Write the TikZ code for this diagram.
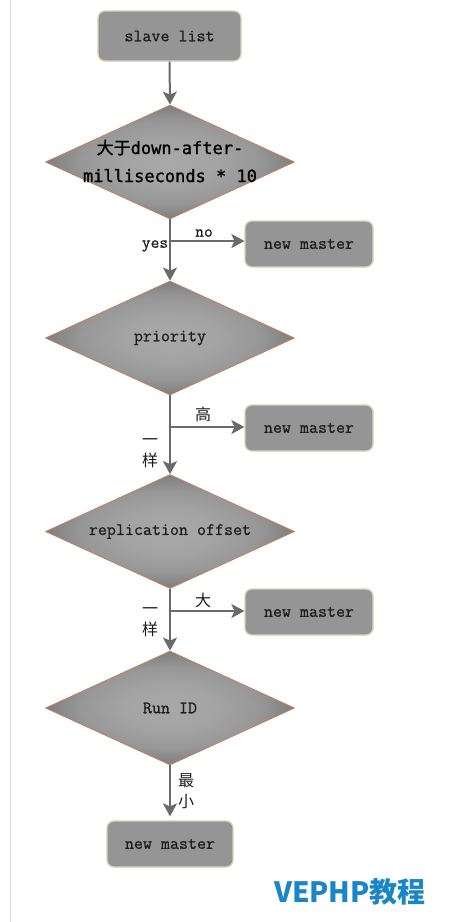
\documentclass[tikz,border=0pt]{standalone}
\usepackage{fontspec}
\newfontfamily\boxf{Latin Modern Mono}[FakeBold=0.8]
\newfontfamily\cjk{Noto Sans CJK SC}
\newfontfamily\cjkb{Noto Sans CJK SC}[FakeBold=1.2]
\newfontfamily\dvm[FakeBold=1.2]{DejaVu Sans Mono}
\usetikzlibrary{shapes.geometric,arrows.meta}
\definecolor{boxfill}{HTML}{959595}
\definecolor{boxline}{HTML}{D6D3B4}
\definecolor{dialine}{HTML}{C8805E}
\definecolor{arrowc}{HTML}{6A6A6A}
\definecolor{txt}{HTML}{1E1E1E}
\definecolor{wm}{HTML}{1A86C8}
\definecolor{dc0}{HTML}{A9A9A9}
\definecolor{dc1}{HTML}{A3A3A3}
\definecolor{dc2}{HTML}{979797}
\definecolor{dc3}{HTML}{7E7E7E}
\pgfdeclareradialshading{diashade}{\pgfpoint{0bp}{0bp}}{%
  color(0bp)=(dc0); color(10bp)=(dc1);
  color(18bp)=(dc2); color(25bp)=(dc3); color(50bp)=(dc3)}
\tikzset{
  x=1pt, y=-1pt,
  boxnode/.style={draw=boxline, line width=1.2pt, fill=boxfill, rounded corners=7pt,
    inner sep=0pt, text=txt, font=\boxf\fontsize{17.5}{20}\selectfont},
  dianode/.style={diamond, draw=dialine, line width=0.8pt, shading=diashade,
    minimum width=249pt, minimum height=114pt, inner sep=0pt, aspect=2.2,
    text=txt, font=\boxf\fontsize{17.5}{20}\selectfont},
  conn/.style={draw=arrowc, line width=2pt,
    -{Stealth[width=14pt,length=13pt,inset=3pt]}},
  lbl/.style={inner sep=0pt, text=txt, font=\boxf\fontsize{17}{20}\selectfont},
  cjklbl/.style={inner sep=0pt, text=txt, align=center, font=\cjk\fontsize{16}{21}\selectfont},
}
\begin{document}
\begin{tikzpicture}
\useasboundingbox (0,0) rectangle (462,922);
\fill[white] (0,0) rectangle (462,922);
\draw[black!15, line width=1pt] (10,0) -- (10,922);

\node[boxnode, minimum width=143pt, minimum height=50pt] (slave) at (169.5,36) {slave list};
\node[dianode] (d1) at (170,162) {};
\node[inner sep=0pt, align=center, text=black, font=\dvm\fontsize{17}{28}\selectfont] (d1t) at (170,161)
  {{\cjkb 大于}down-after-\\milliseconds * 10};
\node[dianode] (d2) at (170,338) {priority};
\node[dianode] (d3) at (170,531.5) {replication offset};
\node[dianode] (d4) at (170,708) {Run ID};

\node[boxnode, minimum width=128pt, minimum height=46pt] (nm1) at (309,244) {new master};
\node[boxnode, minimum width=128pt, minimum height=46pt] (nm2) at (309,428) {new master};
\node[boxnode, minimum width=128pt, minimum height=46pt] (nm3) at (309,612) {new master};
\node[boxnode, minimum width=126pt, minimum height=46pt] (nm4) at (170,844) {new master};

\coordinate (b1) at (170,241);
\coordinate (b2) at (170,427);
\coordinate (b3) at (170,611);

\draw[conn] (slave.south) -- (d1.north);
\draw[conn] (d1.south) -- (d2.north);
\draw[conn] (d2.south) -- (d3.north);
\draw[conn] (d3.south) -- (d4.north);
\draw[conn] (d4.south) -- ([yshift=4pt]nm4.north);
\draw[conn] (b1) -- (b1 -| nm1.west);
\draw[conn] (b2) -- (b2 -| nm2.west);
\draw[conn] (b3) -- (b3 -| nm3.west);

\node[lbl] (lno) at (204,233) {no};
\node[lbl] (lyes) at (155,246) {yes};
\node[cjklbl] (lgao) at (203,414) {高};
\node[cjklbl] (lys1) at (150,453) {一\\样};
\node[cjklbl] (lda) at (203,600) {大};
\node[cjklbl] (lys2) at (150,622) {一\\样};
\node[cjklbl] (lmin) at (186,791) {最\\小};

\node[inner sep=0pt, text=wm, font=\cjk\bfseries\fontsize{28}{32}\selectfont] (wmk) at (350,892) {VEPHP教程};
\end{tikzpicture}
\end{document}
